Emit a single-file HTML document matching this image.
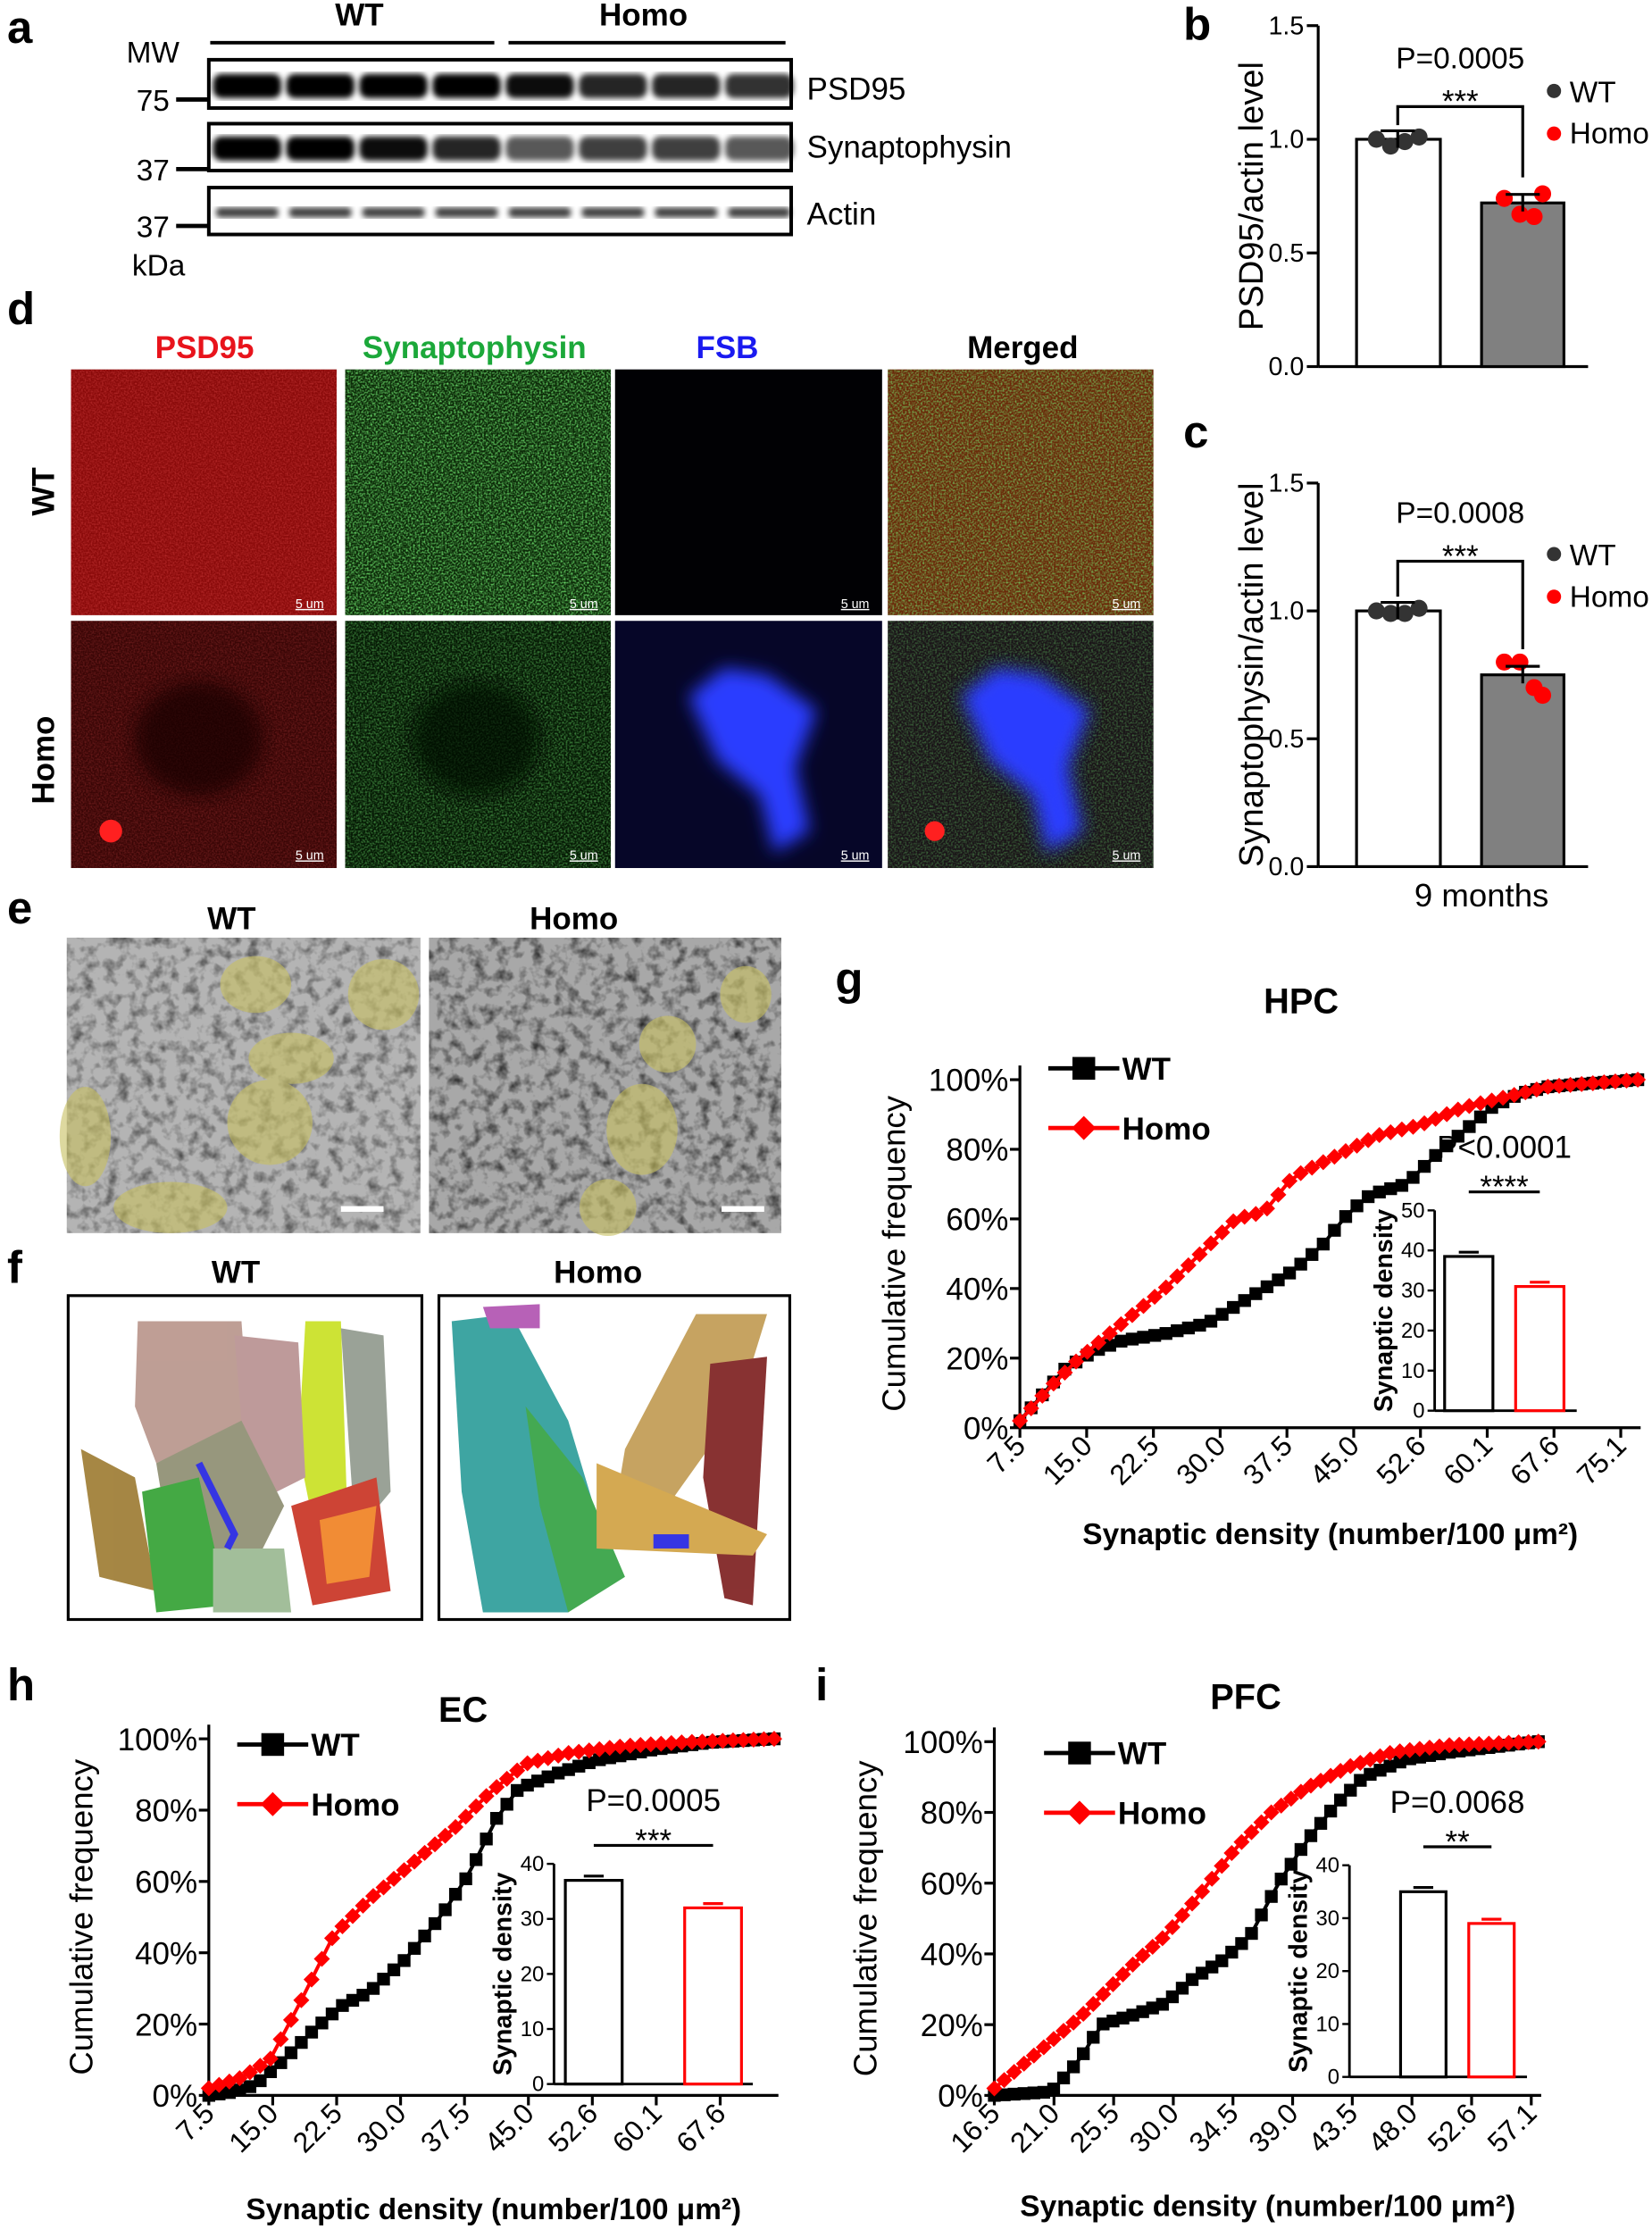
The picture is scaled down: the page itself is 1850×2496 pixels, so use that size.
<!DOCTYPE html>
<html><head><meta charset="utf-8"><style>
html,body{margin:0;padding:0;background:#fff;}
svg{display:block;font-family:"Liberation Sans",Arial,sans-serif;}
</style></head><body>
<svg id="s" width="1850" height="2496" viewBox="0 0 1163 1569" xmlns="http://www.w3.org/2000/svg">
<defs>
<filter id="nR" x="0" y="0" width="1" height="1"><feTurbulence type="fractalNoise" baseFrequency="0.9" numOctaves="1" seed="3"/><feColorMatrix values="0 0 0 0 0.9  0 0 0 0 0.1  0 0 0 0 0.1  0 0 0 1.4 -0.5"/><feComposite in2="SourceGraphic" operator="in"/></filter>
<filter id="nG" x="0" y="0" width="1" height="1"><feTurbulence type="fractalNoise" baseFrequency="0.8" numOctaves="1" seed="5"/><feColorMatrix values="0 0 0 0 0.2  0 0 0 0 0.95  0 0 0 0 0.2  0 0 0 2 -0.8"/><feComposite in2="SourceGraphic" operator="in"/></filter>
<filter id="nE" x="0" y="0" width="1" height="1"><feTurbulence type="fractalNoise" baseFrequency="0.12" numOctaves="3" seed="8"/><feColorMatrix values="0 0 0 0 0  0 0 0 0 0  0 0 0 0 0  0 0 0 2.0 -0.9"/><feComposite in2="SourceGraphic" operator="in"/></filter>
<filter id="bl"><feGaussianBlur stdDeviation="6"/></filter>
<filter id="bb"><feGaussianBlur stdDeviation="2"/></filter>
</defs>

<!-- a -->
<text x="5" y="30" font-size="32" font-weight="bold">a</text>
<text x="253" y="18" font-size="22" font-weight="bold" text-anchor="middle">WT</text>
<text x="453" y="18" font-size="22" font-weight="bold" text-anchor="middle">Homo</text>
<line x1="148" y1="30" x2="348" y2="30" stroke="#000" stroke-width="2.5"/>
<line x1="358" y1="30" x2="553" y2="30" stroke="#000" stroke-width="2.5"/>
<text x="89" y="44" font-size="21">MW</text>
<text x="96" y="78" font-size="21">75</text><line x1="124" y1="70" x2="147" y2="70" stroke="#000" stroke-width="3"/>
<text x="96" y="127" font-size="21">37</text><line x1="124" y1="119" x2="147" y2="119" stroke="#000" stroke-width="3"/>
<text x="96" y="167" font-size="21">37</text><line x1="124" y1="159" x2="147" y2="159" stroke="#000" stroke-width="3"/>
<text x="93" y="194" font-size="21">kDa</text>
<g id="blot"></g>
<rect x="147" y="42" width="410" height="34" fill="none" stroke="#000" stroke-width="2.5"/>
<rect x="147" y="87" width="410" height="33" fill="none" stroke="#000" stroke-width="2.5"/>
<rect x="147" y="132" width="410" height="33" fill="none" stroke="#000" stroke-width="2.5"/>
<text x="568" y="70" font-size="22">PSD95</text>
<text x="568" y="111" font-size="22">Synaptophysin</text>
<text x="568" y="158" font-size="22">Actin</text>

<!-- b -->
<text x="833" y="28" font-size="32" font-weight="bold">b</text>
<g id="pb"></g>
<!-- c -->
<text x="833" y="315" font-size="32" font-weight="bold">c</text>
<g id="pc"></g>
<text x="1043" y="638" font-size="23" text-anchor="middle">9 months</text>

<!-- d -->
<text x="5" y="228" font-size="32" font-weight="bold">d</text>
<text x="144" y="252" font-size="22" font-weight="bold" fill="#e8141c" text-anchor="middle">PSD95</text>
<text x="334" y="252" font-size="22" font-weight="bold" fill="#1ca83a" text-anchor="middle">Synaptophysin</text>
<text x="512" y="252" font-size="22" font-weight="bold" fill="#1a1af0" text-anchor="middle">FSB</text>
<text x="720" y="252" font-size="22" font-weight="bold" text-anchor="middle">Merged</text>
<text transform="translate(38,346) rotate(-90)" font-size="22" font-weight="bold" text-anchor="middle">WT</text>
<text transform="translate(38,535) rotate(-90)" font-size="22" font-weight="bold" text-anchor="middle">Homo</text>
<rect x="50" y="260" width="187" height="173" fill="#8a0a0a"/>
<rect x="50" y="260" width="187" height="173" fill="#fff" filter="url(#nR)" opacity="0.6"/>
<rect x="243" y="260" width="187" height="173" fill="#0c2a08"/>
<rect x="243" y="260" width="187" height="173" fill="#fff" filter="url(#nG)"/>
<rect x="433" y="260" width="188" height="173" fill="#010104"/>
<rect x="625" y="260" width="187" height="173" fill="#6a2a0a"/>
<rect x="625" y="260" width="187" height="173" fill="#fff" filter="url(#nG)" opacity="0.8"/>
<rect x="50" y="437" width="187" height="174" fill="#3a0606"/>
<rect x="50" y="437" width="187" height="174" fill="#fff" filter="url(#nR)" opacity="0.4"/>
<ellipse cx="140" cy="520" rx="45" ry="40" fill="#180303" filter="url(#bl)" opacity="0.7"/>
<circle cx="78" cy="585" r="8" fill="#ff2020"/>
<rect x="243" y="437" width="187" height="174" fill="#061a05"/>
<rect x="243" y="437" width="187" height="174" fill="#fff" filter="url(#nG)" opacity="0.6"/>
<ellipse cx="335" cy="520" rx="45" ry="40" fill="#020802" filter="url(#bl)" opacity="0.7"/>
<rect x="433" y="437" width="188" height="174" fill="#060628"/>
<path d="M485 490 L510 470 L540 475 L575 500 L560 540 L570 585 L545 600 L535 560 L505 535 Z" fill="#2c3cff" filter="url(#bl)"/>
<rect x="625" y="437" width="187" height="174" fill="#1a1418"/>
<rect x="625" y="437" width="187" height="174" fill="#fff" filter="url(#nG)" opacity="0.45"/>
<path d="M677 490 L702 470 L732 475 L767 500 L752 540 L762 585 L737 600 L727 560 L697 535 Z" fill="#2c3cff" filter="url(#bl)"/>
<circle cx="658" cy="585" r="7" fill="#ff2020"/>
<g font-size="9" fill="#fff" text-decoration="underline">
<text x="208" y="428">5 um</text><text x="401" y="428">5 um</text><text x="592" y="428">5 um</text><text x="783" y="428">5 um</text>
<text x="208" y="605">5 um</text><text x="401" y="605">5 um</text><text x="592" y="605">5 um</text><text x="783" y="605">5 um</text>
</g>

<!-- e -->
<text x="5" y="650" font-size="32" font-weight="bold">e</text>
<text x="163" y="654" font-size="22" font-weight="bold" text-anchor="middle">WT</text>
<text x="404" y="654" font-size="22" font-weight="bold" text-anchor="middle">Homo</text>
<rect x="47" y="660" width="249" height="208" fill="#b4b4b4"/>
<rect x="47" y="660" width="249" height="208" fill="#fff" filter="url(#nE)" opacity="0.6"/>
<rect x="302" y="660" width="248" height="208" fill="#a8a8a8"/>
<rect x="302" y="660" width="248" height="208" fill="#fff" filter="url(#nE)" opacity="0.75"/>
<g fill="#c8c060" opacity="0.6">
<ellipse cx="180" cy="693" rx="25" ry="20"/><ellipse cx="205" cy="745" rx="30" ry="18"/><ellipse cx="190" cy="790" rx="30" ry="30"/><ellipse cx="60" cy="800" rx="18" ry="35"/><ellipse cx="270" cy="700" rx="25" ry="25"/><ellipse cx="120" cy="850" rx="40" ry="18"/>
<ellipse cx="452" cy="795" rx="25" ry="32"/><ellipse cx="525" cy="700" rx="18" ry="20"/><ellipse cx="470" cy="735" rx="20" ry="20"/><ellipse cx="428" cy="850" rx="20" ry="20"/>
</g>
<rect x="240" y="849" width="30" height="4" fill="#fff"/><rect x="508" y="849" width="30" height="4" fill="#fff"/>

<!-- f -->
<text x="5" y="903" font-size="32" font-weight="bold">f</text>
<text x="166" y="903" font-size="22" font-weight="bold" text-anchor="middle">WT</text>
<text x="421" y="903" font-size="22" font-weight="bold" text-anchor="middle">Homo</text>
<rect x="48" y="912" width="249" height="228" fill="#fff" stroke="#000" stroke-width="2"/>
<rect x="309" y="912" width="247" height="228" fill="#fff" stroke="#000" stroke-width="2"/>
<g opacity="0.9">
<path d="M97 930 L170 930 L175 1000 L110 1030 L95 990 Z" fill="#b8948a"/>
<path d="M215 930 L240 930 L245 1080 L225 1095 L210 1020 Z" fill="#c8e020"/>
<path d="M240 935 L270 940 L275 1050 L250 1080 Z" fill="#90988c"/>
<path d="M165 940 L210 945 L215 1040 L175 1060 Z" fill="#b89090"/>
<path d="M110 1030 L170 1000 L200 1060 L180 1100 L120 1090 Z" fill="#8c8c70"/>
<path d="M57 1020 L95 1040 L110 1120 L70 1110 Z" fill="#9c7a30"/>
<path d="M100 1050 L140 1040 L160 1130 L110 1135 Z" fill="#30a030"/>
<path d="M150 1090 L200 1090 L205 1135 L150 1135 Z" fill="#98b890"/>
<path d="M205 1060 L265 1040 L275 1120 L220 1130 Z" fill="#c83020"/>
<path d="M225 1070 L265 1060 L260 1110 L230 1115 Z" fill="#f08020"/>
<path d="M140 1030 L165 1080 L160 1090" stroke="#2020e0" stroke-width="5" fill="none"/>
<path d="M318 930 L360 925 L400 1000 L430 1100 L400 1135 L340 1135 L325 1050 Z" fill="#2a9c98"/>
<path d="M370 990 L410 1040 L440 1110 L400 1135 L380 1060 Z" fill="#30a040"/>
<path d="M490 925 L540 925 L520 990 L470 1060 L430 1080 L440 1020 Z" fill="#c09a50"/>
<path d="M500 960 L540 955 L530 1130 L510 1125 L495 1040 Z" fill="#7c1c1c"/>
<path d="M420 1030 L540 1080 L530 1095 L420 1090 Z" fill="#d0a040"/>
<path d="M340 920 L380 918 L380 935 L345 935 Z" fill="#b050b0"/>
<rect x="460" y="1080" width="25" height="10" fill="#2020e0"/>
</g>

<text x="588" y="700" font-size="32" font-weight="bold">g</text>
<text x="916" y="713" font-size="25" font-weight="bold" text-anchor="middle">HPC</text>
<g id="pg"></g>
<text x="5" y="1197" font-size="32" font-weight="bold">h</text>
<text x="326" y="1212" font-size="25" font-weight="bold" text-anchor="middle">EC</text>
<g id="ph"></g>
<text x="574" y="1197" font-size="32" font-weight="bold">i</text>
<text x="877" y="1203" font-size="25" font-weight="bold" text-anchor="middle">PFC</text>
<g id="pi"></g>
</svg>
<script>
const NS="http://www.w3.org/2000/svg";
function el(p,t,a,txt){const e=document.createElementNS(NS,t);for(const k in a)e.setAttribute(k,a[k]);if(txt!==undefined)e.textContent=txt;p.appendChild(e);return e;}
const bl=document.getElementById('blot');
[0,1,2,3,4,5,6,7].forEach(i=>{const cx=174+i*51.5;
 const d1=[1,1,1,1,0.95,0.85,0.85,0.8][i];el(bl,'rect',{x:cx-24,y:52,width:48,height:17,rx:6,fill:'#000',opacity:d1,filter:'url(#bb)'});
 const d2=[1,1,0.95,0.85,0.65,0.75,0.75,0.65][i];el(bl,'rect',{x:cx-24,y:96,width:48,height:17,rx:6,fill:'#000',opacity:d2,filter:'url(#bb)'});
 el(bl,'rect',{x:cx-22,y:146,width:44,height:7,rx:3,fill:'#000',opacity:0.75,filter:'url(#bb)'});
});
function barPanel(g,top,bot,label,p,wt,ho,wpts,hpts,ex){
 const ax=928,sc=(bot-top)/1.5,Y=v=>bot-v*sc;
 el(g,'line',{x1:ax,y1:top,x2:ax,y2:bot,stroke:'#000','stroke-width':2});
 el(g,'line',{x1:ax,y1:bot,x2:1118,y2:bot,stroke:'#000','stroke-width':2});
 [0,0.5,1,1.5].forEach(v=>{el(g,'line',{x1:ax-8,y1:Y(v),x2:ax,y2:Y(v),stroke:'#000','stroke-width':2});el(g,'text',{x:ax-10,y:Y(v)+6,'font-size':18,'text-anchor':'end'},v.toFixed(1));});
 el(g,'text',{transform:`translate(889,${(top+bot)/2}) rotate(-90)`,'font-size':24,'text-anchor':'middle'},label);
 el(g,'rect',{x:955,y:Y(wt),width:59,height:bot-Y(wt),fill:'#fff',stroke:'#000','stroke-width':2});
 el(g,'rect',{x:1043,y:Y(ho),width:58,height:bot-Y(ho),fill:'#808080',stroke:'#000','stroke-width':2});
 wpts.forEach(([dx,v])=>el(g,'circle',{cx:984+dx,cy:Y(v),r:6,fill:'#333'}));
 hpts.forEach(([dx,v])=>el(g,'circle',{cx:1072+dx,cy:Y(v),r:6,fill:'#f00'}));
 [[984,wt],[1072,ho]].forEach(([x,v])=>{el(g,'line',{x1:x,y1:Y(v)-6,x2:x,y2:Y(v)+6,stroke:'#000','stroke-width':2});el(g,'line',{x1:x-12,y1:Y(v)-6,x2:x+12,y2:Y(v)-6,stroke:'#000','stroke-width':2});});
 const b=Y(wt)-23-ex;
 el(g,'polyline',{points:`984,${Y(wt)-10} 984,${b} 1072,${b} 1072,${Y(ho)-18}`,fill:'none',stroke:'#000','stroke-width':2});
 el(g,'text',{x:1028,y:b+4,'font-size':22,'text-anchor':'middle'},'***');
 el(g,'text',{x:1028,y:Y(wt)-50-ex,'font-size':21,'text-anchor':'middle'},p);
 el(g,'circle',{cx:1094,cy:Y(wt)-34-ex/2,r:5,fill:'#333'});el(g,'text',{x:1105,y:Y(wt)-26-ex/2,'font-size':21},'WT');
 el(g,'circle',{cx:1094,cy:Y(wt)-4-ex/2,r:5,fill:'#f00'});el(g,'text',{x:1105,y:Y(wt)+3-ex/2,'font-size':21},'Homo');
}
barPanel(document.getElementById('pb'),18,258,'PSD95/actin level','P=0.0005',1.0,0.72,[[-15,1.0],[-5,0.97],[5,0.99],[15,1.01]],[[-13,0.74],[-2,0.67],[8,0.66],[14,0.76]],0);
barPanel(document.getElementById('pc'),340,610,'Synaptophysin/actin level','P=0.0008',1.0,0.75,[[-15,1.0],[-5,0.99],[5,0.99],[15,1.01]],[[-13,0.8],[-2,0.8],[8,0.7],[14,0.67]],12);
function cdf(g,o){
 const {L,R,B,T,labels,step,wt,ho,ylabX,xlab,xlabY,legX,legY,inset}=o;
 const Y=p=>B-(B-T)*p/100;
 el(g,'line',{x1:L,y1:T-10,x2:L,y2:B,stroke:'#000','stroke-width':2});
 el(g,'line',{x1:L,y1:B,x2:R,y2:B,stroke:'#000','stroke-width':2});
 for(let p=0;p<=100;p+=20){el(g,'line',{x1:L-7,y1:Y(p),x2:L,y2:Y(p),stroke:'#000','stroke-width':2});el(g,'text',{x:L-8,y:Y(p)+8,'font-size':22,'text-anchor':'end'},p+'%');}
 labels.forEach((t,i)=>{const x=L+i*step;el(g,'line',{x1:x,y1:B,x2:x,y2:B+7,stroke:'#000','stroke-width':2});el(g,'text',{transform:`translate(${x+5},${B+14}) rotate(-45)`,'font-size':20,'text-anchor':'end'},t);});
 el(g,'text',{transform:`translate(${ylabX},${(B+T)/2}) rotate(-90)`,'font-size':23,'text-anchor':'middle'},'Cumulative frequency');
 el(g,'text',{x:(L+R)/2,y:xlabY,'font-size':21,'font-weight':'bold','text-anchor':'middle'},xlab);
 function series(pts,col,mk){
  let s=[];const n=55;const x0=pts[0][0],x1=pts[pts.length-1][0];
  for(let k=0;k<=n;k++){const x=x0+(x1-x0)*k/n;let j=0;while(j<pts.length-2&&pts[j+1][0]<x)j++;const a=pts[j],b=pts[j+1];const p=a[1]+(b[1]-a[1])*(x-a[0])/(b[0]-a[0]);s.push([x,Y(p)]);}
  el(g,'polyline',{points:s.map(p=>p.join(',')).join(' '),fill:'none',stroke:col,'stroke-width':2.5});
  s.forEach(([x,y])=>{if(mk=='s')el(g,'rect',{x:x-4.5,y:y-4.5,width:9,height:9,fill:col});else el(g,'rect',{x:x-4,y:y-4,width:8,height:8,fill:col,transform:`rotate(45 ${x} ${y})`});});
 }
 series(wt,'#000','s');series(ho,'#f00','d');
 el(g,'line',{x1:legX,y1:legY,x2:legX+50,y2:legY,stroke:'#000','stroke-width':3});el(g,'rect',{x:legX+17,y:legY-8,width:16,height:16,fill:'#000'});
 el(g,'text',{x:legX+52,y:legY+8,'font-size':22,'font-weight':'bold'},'WT');
 el(g,'line',{x1:legX,y1:legY+42,x2:legX+50,y2:legY+42,stroke:'#f00','stroke-width':3});el(g,'rect',{x:legX+19,y:legY+36,width:12,height:12,fill:'#f00',transform:`rotate(45 ${legX+25} ${legY+42})`});
 el(g,'text',{x:legX+52,y:legY+50,'font-size':22,'font-weight':'bold'},'Homo');
 const I=inset,iy=v=>I.b-(I.b-I.t)*v/I.max;
 el(g,'line',{x1:I.x,y1:I.t,x2:I.x,y2:I.b,stroke:'#000','stroke-width':1.8});
 el(g,'line',{x1:I.x,y1:I.b,x2:I.x+I.w,y2:I.b,stroke:'#000','stroke-width':1.8});
 for(let v=0;v<=I.max;v+=10){el(g,'line',{x1:I.x-5,y1:iy(v),x2:I.x,y2:iy(v),stroke:'#000','stroke-width':1.5});el(g,'text',{x:I.x-7,y:iy(v)+5,'font-size':15,'text-anchor':'end'},v);}
 el(g,'text',{transform:`translate(${I.x-30},${(I.t+I.b)/2}) rotate(-90)`,'font-size':18,'font-weight':'bold','text-anchor':'middle'},'Synaptic density');
 el(g,'rect',{x:I.b1,y:iy(I.v1),width:I.bw,height:I.b-iy(I.v1),fill:'#fff',stroke:'#000','stroke-width':2});
 el(g,'rect',{x:I.b2,y:iy(I.v2),width:I.bw,height:I.b-iy(I.v2),fill:'#fff',stroke:'#f00','stroke-width':2});
 el(g,'line',{x1:I.b1+I.bw/2-7,y1:iy(I.v1)-3,x2:I.b1+I.bw/2+7,y2:iy(I.v1)-3,stroke:'#000','stroke-width':2});
 el(g,'line',{x1:I.b2+I.bw/2-7,y1:iy(I.v2)-3,x2:I.b2+I.bw/2+7,y2:iy(I.v2)-3,stroke:'#f00','stroke-width':2});
 const sy=I.t-13;el(g,'line',{x1:I.b1+I.bw/2,y1:sy,x2:I.b2+I.bw/2,y2:sy,stroke:'#000','stroke-width':2});
 el(g,'text',{x:(I.b1+I.b2+I.bw)/2,y:sy+4,'font-size':22,'text-anchor':'middle'},I.stars);
 el(g,'text',{x:(I.b1+I.b2+I.bw)/2,y:sy-24,'font-size':22,'text-anchor':'middle'},I.p);
}
cdf(document.getElementById('pg'),{L:718,R:1155,B:1005,T:760,step:47,labels:['7.5','15.0','22.5','30.0','37.5','45.0','52.6','60.1','67.6','75.1'],
 wt:[[718,2],[735,10],[750,17],[770,22],[790,25],[820,27],[850,30],[870,35],[890,40],[910,45],[930,52],[950,62],[965,67],[990,70],[1010,78],[1030,85],[1050,92],[1070,96],[1090,98],[1153,100]],
 ho:[[718,2],[740,12],[760,20],[790,30],[820,40],[850,52],[870,60],[890,62],[910,72],[940,78],[970,84],[1000,87],[1030,92],[1060,95],[1090,98],[1153,100]],
 ylabX:637,xlab:'Synaptic density (number/100 μm²)',xlabY:1087,legX:738,legY:752,
 inset:{x:1010,t:852,b:993,max:50,w:100,b1:1017,b2:1067,bw:34,v1:38.5,v2:31,stars:'****',p:'P<0.0001'}});
cdf(document.getElementById('ph'),{L:147,R:548,B:1475,T:1224,step:45,labels:['7.5','15.0','22.5','30.0','37.5','45.0','52.6','60.1','67.6'],
 wt:[[147,0],[165,1],[180,3],[200,10],[220,18],[240,25],[260,29],[285,38],[310,50],[330,62],[350,78],[365,86],[390,90],[420,94],[460,97],[500,99],[545,100]],
 ho:[[147,2],[170,5],[190,10],[210,25],[235,45],[260,55],[290,65],[320,75],[345,85],[370,93],[400,96],[440,98],[480,99],[545,100]],
 ylabX:65,xlab:'Synaptic density (number/100 μm²)',xlabY:1562,legX:167,legY:1228,
 inset:{x:390,t:1312,b:1467,max:40,w:140,b1:398,b2:482,bw:40,v1:37,v2:32,stars:'***',p:'P=0.0005'}});
cdf(document.getElementById('pi'),{L:700,R:1085,B:1475,T:1226,step:42,labels:['16.5','21.0','25.5','30.0','34.5','39.0','43.5','48.0','52.6','57.1'],
 wt:[[700,0],[740,1],[760,10],[775,20],[800,23],[820,26],[840,33],[860,38],[880,45],[900,60],[920,72],[940,82],[960,90],[990,95],[1020,97],[1083,100]],
 ho:[[700,2],[730,12],[760,22],[780,30],[800,38],[820,45],[845,57],[870,70],[895,80],[920,87],[950,93],[980,97],[1020,99],[1083,100]],
 ylabX:617,xlab:'Synaptic density (number/100 μm²)',xlabY:1560,legX:735,legY:1234,
 inset:{x:950,t:1313,b:1462,max:40,w:125,b1:986,b2:1034,bw:32,v1:35,v2:29,stars:'**',p:'P=0.0068'}});
</script>
</body></html>
